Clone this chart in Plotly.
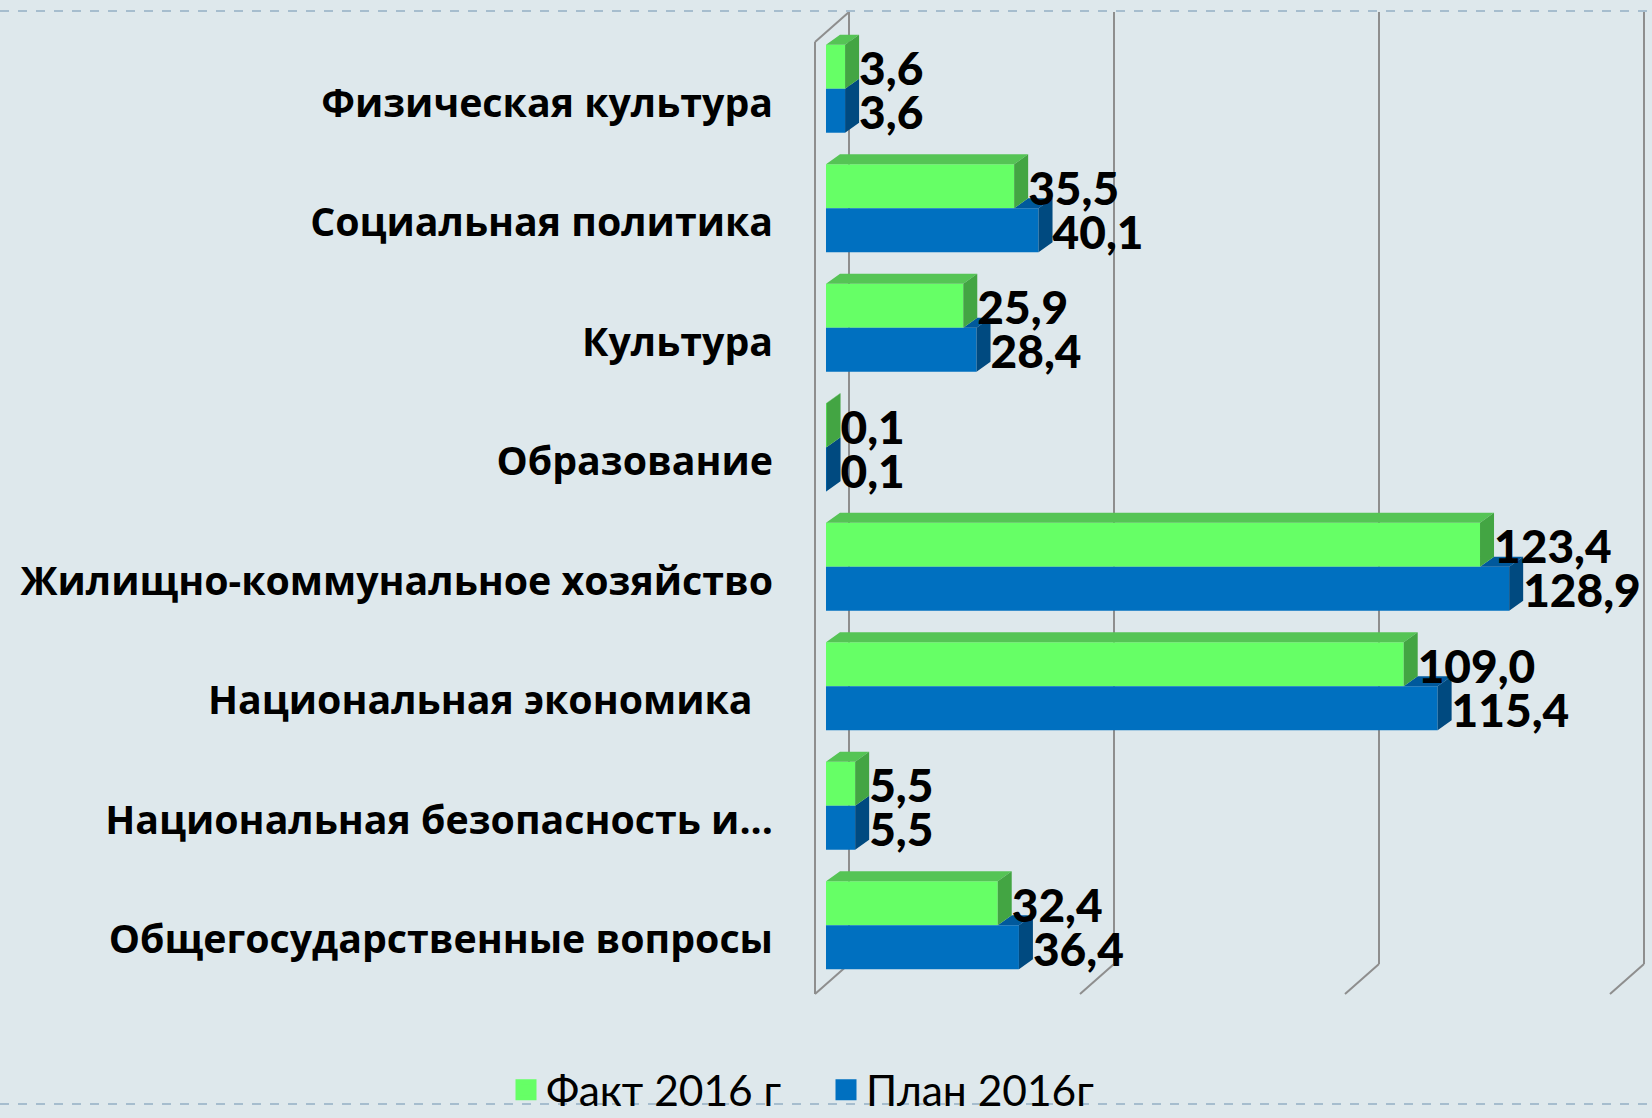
import plotly.graph_objects as go

# ---------------- data ----------------
categories = [
    "Физическая культура",
    "Социальная политика",
    "Культура",
    "Образование",
    "Жилищно-коммунальное хозяйство",
    "Национальная экономика\u00a0\u00a0",
    "Национальная безопасность и...",
    "Общегосударственные вопросы",
]
fact_2016 = [3.6, 35.5, 25.9, 0.1, 123.4, 109.0, 5.5, 32.4]
plan_2016 = [3.6, 40.1, 28.4, 0.1, 128.9, 115.4, 5.5, 36.4]
series_names = ["Факт 2016 г", "План 2016г"]
x_ticks = [0, 50, 100, 150]

# ---------------- layout constants ----------------
W, H = 1652, 1118
L, R, T, B = 826, 1621, 29, 985
XMAX = 150
n = len(categories)
kx = (R - L) / XMAX          # px per value unit
ky = (B - T) / n             # px per category
bw = 0.368                   # bar thickness (category units)
dxu = 14 / kx                # 3D depth, x (value units)
dyu = 10 / ky                # 3D depth, y (category units; up = minus)
lbl_dy = 7 / ky              # small downward nudge of value labels

GREEN = "#66FF66"
GREEN_TOP = "#55C455"
GREEN_SIDE = "#43A543"
BLUE = "#0070C0"
BLUE_TOP = "#00599C"
BLUE_SIDE = "#004A80"
BG = "#DEE8EC"

idx = list(range(n))

fig = go.Figure()
fig.add_bar(y=idx, x=fact_2016, orientation="h", width=bw, offset=-bw,
            marker=dict(color=GREEN, line=dict(width=0)), name=series_names[0],
            showlegend=False)
fig.add_bar(y=idx, x=plan_2016, orientation="h", width=bw, offset=0,
            marker=dict(color=BLUE, line=dict(width=0)), name=series_names[1],
            showlegend=False)


def polys(list_of_polys):
    xs, ys = [], []
    for p in list_of_polys:
        for (a, b) in p + [p[0]]:
            xs.append(a)
            ys.append(b)
        xs.append(None)
        ys.append(None)
    return xs, ys


blue_strip, blue_side, green_top, green_side = [], [], [], []
for i, f, p in zip(idx, fact_2016, plan_2016):
    top = i - bw
    green_top.append([(0, top), (f, top), (f + dxu, top - dyu), (dxu, top - dyu)])
    green_side.append([(f, top), (f + dxu, top - dyu), (f + dxu, i - dyu), (f, i)])
    if p > f:
        blue_strip.append([(f, i), (p, i), (p + dxu, i - dyu), (f + dxu, i - dyu)])
    blue_side.append([(p, i), (p + dxu, i - dyu), (p + dxu, i + bw - dyu), (p, i + bw)])

for plist, col in [(blue_strip, BLUE_TOP), (blue_side, BLUE_SIDE),
                   (green_top, GREEN_TOP), (green_side, GREEN_SIDE)]:
    xs, ys = polys(plist)
    fig.add_scatter(x=xs, y=ys, mode="lines", fill="toself", fillcolor=col,
                    line=dict(width=0, color=col), showlegend=False,
                    hoverinfo="skip", cliponaxis=False)


def fmt(v):
    return f"{v:.1f}".replace(".", ",")


label_font = dict(family="Lato", size=46, color="black", weight=900)
fig.add_scatter(x=[v + dxu for v in fact_2016], y=[i - bw / 2 + lbl_dy for i in idx],
                text=[fmt(v) for v in fact_2016], mode="text",
                textposition="middle right", textfont=label_font,
                showlegend=False, hoverinfo="skip", cliponaxis=False)
fig.add_scatter(x=[v + dxu for v in plan_2016], y=[i + bw / 2 + lbl_dy for i in idx],
                text=[fmt(v) for v in plan_2016], mode="text",
                textposition="middle right", textfont=label_font,
                showlegend=False, hoverinfo="skip", cliponaxis=False)

# legend entries (square swatches)
for name, col in zip(series_names, [GREEN, BLUE]):
    fig.add_scatter(x=[None], y=[None], mode="markers", name=name,
                    marker=dict(symbol="square", size=16, color=col,
                                line=dict(width=5, color=col)))

# ---------------- 3D wall / grid lines ----------------
def yp(py):
    return (B - py) / (B - T)


def xpp(t, off_px):
    return (t * kx + off_px) / (R - L)


GRID = "#8E8E8E"
shapes = []
for t in x_ticks:
    bx = xpp(t, 23)
    fx = xpp(t, -11)
    seg = [((bx, yp(12)), (bx, yp(964))), ((bx, yp(964)), (fx, yp(994)))]
    if t == 0:
        seg += [((fx, yp(994)), (fx, yp(42))), ((fx, yp(42)), (bx, yp(12)))]
    for (x0, y0), (x1, y1) in seg:
        shapes.append(dict(type="line", xref="paper", yref="paper", x0=x0, y0=y0,
                           x1=x1, y1=y1, layer="below",
                           line=dict(color=GRID, width=2)))

px0 = -L / (R - L)
px1 = (W - L) / (R - L)
for py in (11, 1104):
    shapes.append(dict(type="line", xref="paper", yref="paper", x0=px0, x1=px1,
                       y0=yp(py), y1=yp(py), layer="below",
                       line=dict(color="#A6BDCE", width=2, dash="dash")))

fig.update_layout(
    width=W, height=H,
    margin=dict(l=L, r=W - R, t=T, b=H - B, autoexpand=False),
    paper_bgcolor=BG, plot_bgcolor=BG,
    barmode="overlay",
    shapes=shapes,
    showlegend=True,
    legend=dict(orientation="h", xref="container", yref="container",
                x=0.5, xanchor="center", y=1 - 1090 / H, yanchor="middle",
                font=dict(family="Lato", size=42.5, color="black"),
                bgcolor="rgba(0,0,0,0)", traceorder="normal",
                itemsizing="trace", entrywidth=275, entrywidthmode="pixels"),
    xaxis=dict(range=[0, XMAX], showgrid=False, zeroline=False, showline=False,
               showticklabels=False, ticks="", fixedrange=True),
    yaxis=dict(range=[n - 0.5, -0.5], tickmode="array",
               tickvals=[i + 0.12 for i in idx], ticktext=categories,
               showgrid=False, zeroline=False, showline=False, ticks="",
               ticklabelstandoff=52,
               tickfont=dict(family="Open Sans", size=39.3, color="black", weight="bold"),
               fixedrange=True),
)

fig.write_html(
    "out.html",
    config={"displayModeBar": False},
    post_script="document.body.style.margin='0';document.body.style.overflow='hidden';",
)
